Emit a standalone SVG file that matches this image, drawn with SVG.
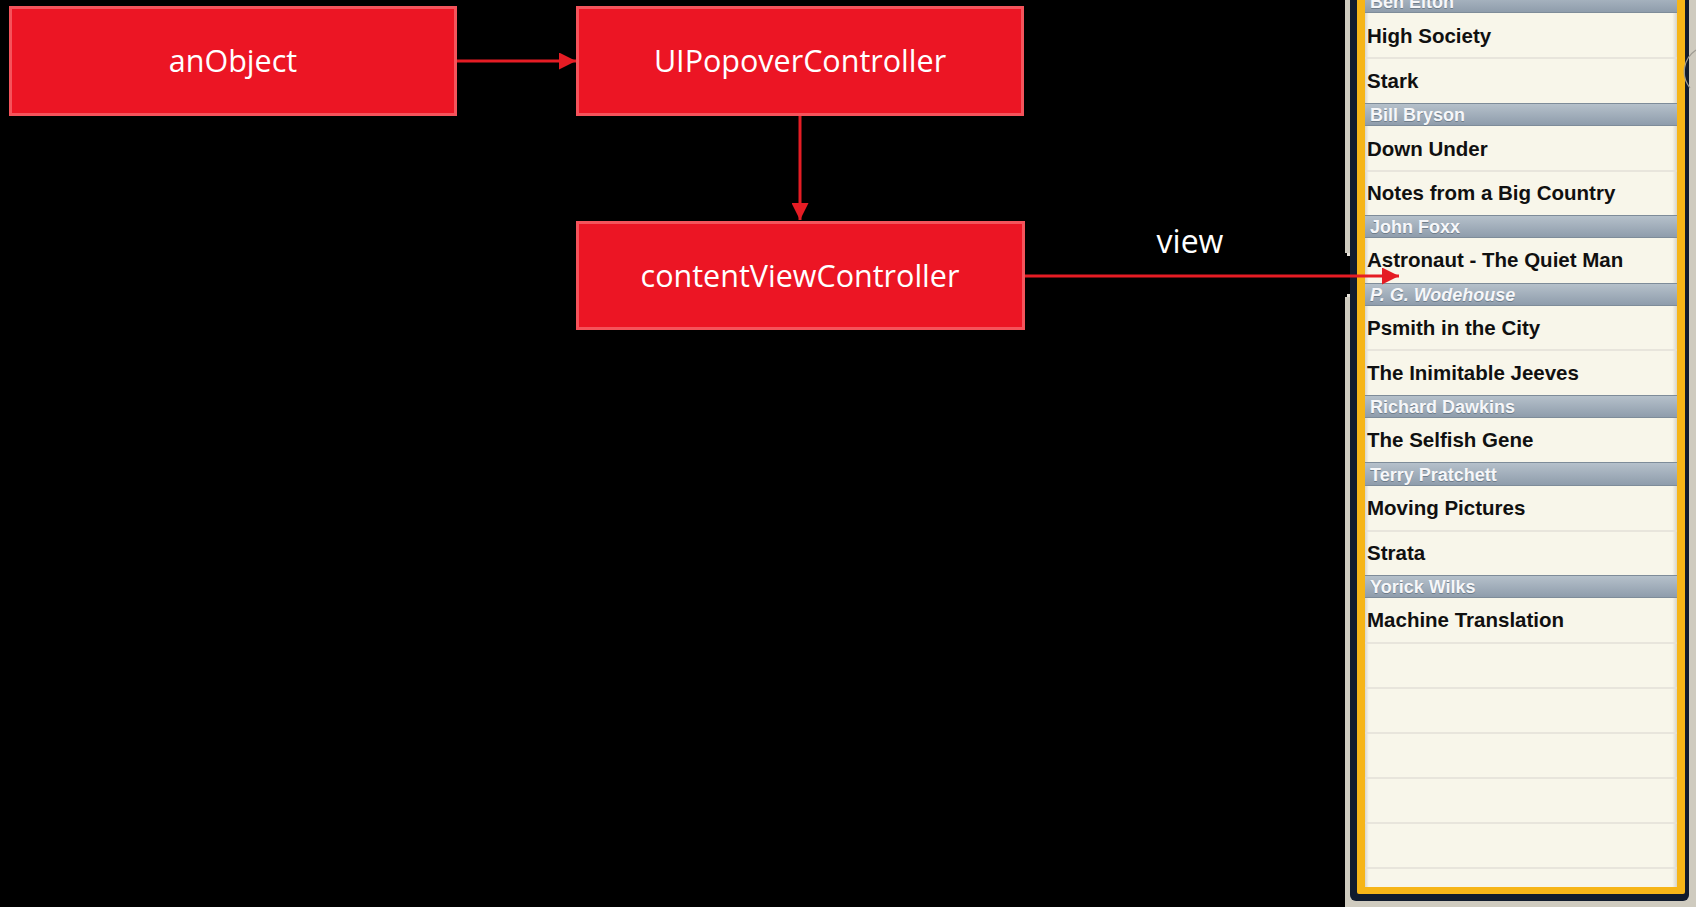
<svg xmlns="http://www.w3.org/2000/svg" width="1696" height="907" viewBox="0 0 1696 907">
  <defs>
    <style>
      .box { fill: #ec1524; stroke: #f5535b; stroke-width: 3; }
      .boxlabel { font-family: "Open Sans", "Liberation Sans", sans-serif; font-size: 30.5px; fill: #ffffff; text-anchor: middle; }
      .conn { stroke: #e51c24; stroke-width: 3; fill: none; }
      .connlabel { font-family: "Open Sans", "Liberation Sans", sans-serif; font-size: 32px; fill: #ffffff; text-anchor: middle; }
      .row { font-family: "Liberation Sans", Arial, sans-serif; font-size: 20.5px; font-weight: bold; fill: #101010; }
      .hdr { fill: url(#hdrGrad); }
      .hdrline { stroke: #7e8c99; stroke-width: 1; }
      .hdrtext { font-family: "Liberation Sans", Arial, sans-serif; font-size: 18px; font-weight: bold; fill: #f6f7f9; }
      .hdrshadow { font-family: "Liberation Sans", Arial, sans-serif; font-size: 18px; font-weight: bold; fill: #6f7d8a; }
      .sep { stroke: #e3dfd7; stroke-width: 1.5; }
    </style>
    <linearGradient id="hdrGrad" x1="0" y1="0" x2="0" y2="1">
      <stop offset="0" stop-color="#b7c2cc"/>
      <stop offset="1" stop-color="#8d9baa"/>
    </linearGradient>
    <linearGradient id="cellGrad" x1="0" y1="0" x2="1" y2="0">
      <stop offset="0" stop-color="#d9d6cc"/>
      <stop offset="0.012" stop-color="#f8f6ea"/>
      <stop offset="0.985" stop-color="#f8f6ea"/>
      <stop offset="1" stop-color="#d8d5cb"/>
    </linearGradient>
    <marker id="arrow" markerUnits="userSpaceOnUse" markerWidth="17" markerHeight="17" refX="17" refY="8.5" orient="auto">
      <path d="M0,0 L17,8.5 L0,17 z" fill="#e51c24"/>
    </marker>
  </defs>

  <!-- background -->
  <rect x="0" y="0" width="1696" height="907" fill="#000000"/>

  <!-- table view screenshot -->
  <g id="tableview">
    <rect x="1345" y="0" width="351" height="907" fill="#cfcbbf"/>
    <rect x="1350" y="-12" width="339" height="913" rx="6" fill="#111b2d"/>
    <rect x="1357" y="-12" width="328" height="906" rx="2" fill="#f6b518"/>
    <rect x="1365" y="-12" width="312" height="899" fill="url(#cellGrad)"/>
    <!-- faint ring behind the frame -->
    <path d="M1696,50 A26,26 0 0 0 1690,88" fill="none" stroke="#9e9b92" stroke-width="1.2"/>
    <!-- break in the outer edge -->
    <rect x="1345" y="253" width="5" height="44" fill="#000000"/>
    <rect x="1347" y="253" width="3" height="3" fill="#e6e3da"/>
    <rect x="1347" y="294" width="3" height="3" fill="#e6e3da"/>

    <!-- section headers -->
    <g id="headers">
      <rect class="hdr" x="1365" y="-10" width="312" height="23"/>
      <line class="hdrline" x1="1365" y1="12.5" x2="1677" y2="12.5"/>
      <text class="hdrshadow" x="1370" y="9">Ben Elton</text>
      <text class="hdrtext" x="1370" y="8">Ben Elton</text>

      <rect class="hdr" x="1365" y="103" width="312" height="23"/>
      <line class="hdrline" x1="1365" y1="103.5" x2="1677" y2="103.5"/>
      <line class="hdrline" x1="1365" y1="125.5" x2="1677" y2="125.5"/>
      <text class="hdrshadow" x="1370" y="122">Bill Bryson</text>
      <text class="hdrtext" x="1370" y="121">Bill Bryson</text>

      <rect class="hdr" x="1365" y="215" width="312" height="23"/>
      <line class="hdrline" x1="1365" y1="215.5" x2="1677" y2="215.5"/>
      <line class="hdrline" x1="1365" y1="237.5" x2="1677" y2="237.5"/>
      <text class="hdrshadow" x="1370" y="234">John Foxx</text>
      <text class="hdrtext" x="1370" y="233">John Foxx</text>

      <rect class="hdr" x="1365" y="283" width="312" height="23"/>
      <line class="hdrline" x1="1365" y1="283.5" x2="1677" y2="283.5"/>
      <line class="hdrline" x1="1365" y1="305.5" x2="1677" y2="305.5"/>
      <text class="hdrshadow" x="1370" y="302" font-style="italic">P. G. Wodehouse</text>
      <text class="hdrtext" x="1370" y="301" font-style="italic">P. G. Wodehouse</text>

      <rect class="hdr" x="1365" y="395" width="312" height="23"/>
      <line class="hdrline" x1="1365" y1="395.5" x2="1677" y2="395.5"/>
      <line class="hdrline" x1="1365" y1="417.5" x2="1677" y2="417.5"/>
      <text class="hdrshadow" x="1370" y="414">Richard Dawkins</text>
      <text class="hdrtext" x="1370" y="413">Richard Dawkins</text>

      <rect class="hdr" x="1365" y="462" width="312" height="24"/>
      <line class="hdrline" x1="1365" y1="462.5" x2="1677" y2="462.5"/>
      <line class="hdrline" x1="1365" y1="485.5" x2="1677" y2="485.5"/>
      <text class="hdrshadow" x="1370" y="482">Terry Pratchett</text>
      <text class="hdrtext" x="1370" y="481">Terry Pratchett</text>

      <rect class="hdr" x="1365" y="575" width="312" height="23"/>
      <line class="hdrline" x1="1365" y1="575.5" x2="1677" y2="575.5"/>
      <line class="hdrline" x1="1365" y1="597.5" x2="1677" y2="597.5"/>
      <text class="hdrshadow" x="1370" y="594">Yorick Wilks</text>
      <text class="hdrtext" x="1370" y="593">Yorick Wilks</text>
    </g>

    <!-- separators between cells -->
    <g id="separators">
      <line class="sep" x1="1365" y1="58" x2="1677" y2="58"/>
      <line class="sep" x1="1365" y1="171" x2="1677" y2="171"/>
      <line class="sep" x1="1365" y1="350" x2="1677" y2="350"/>
      <line class="sep" x1="1365" y1="531" x2="1677" y2="531"/>
      <line class="sep" x1="1365" y1="643" x2="1677" y2="643"/>
      <line class="sep" x1="1365" y1="688" x2="1677" y2="688"/>
      <line class="sep" x1="1365" y1="733" x2="1677" y2="733"/>
      <line class="sep" x1="1365" y1="778" x2="1677" y2="778"/>
      <line class="sep" x1="1365" y1="823" x2="1677" y2="823"/>
      <line class="sep" x1="1365" y1="868" x2="1677" y2="868"/>
    </g>

    <!-- cell titles -->
    <g id="cells">
      <text class="row" x="1367" y="43">High Society</text>
      <text class="row" x="1367" y="88">Stark</text>
      <text class="row" x="1367" y="156">Down Under</text>
      <text class="row" x="1367" y="200">Notes from a Big Country</text>
      <text class="row" x="1367" y="267">Astronaut - The Quiet Man</text>
      <text class="row" x="1367" y="335">Psmith in the City</text>
      <text class="row" x="1367" y="380">The Inimitable Jeeves</text>
      <text class="row" x="1367" y="447">The Selfish Gene</text>
      <text class="row" x="1367" y="515">Moving Pictures</text>
      <text class="row" x="1367" y="560">Strata</text>
      <text class="row" x="1367" y="627">Machine Translation</text>
    </g>
  </g>

  <!-- object nodes -->
  <g id="anObject">
    <rect class="box" x="10.5" y="7.5" width="445" height="107"/>
    <text class="boxlabel" x="233" y="72">anObject</text>
  </g>
  <g id="UIPopoverController">
    <rect class="box" x="577.5" y="7.5" width="445" height="107"/>
    <text class="boxlabel" x="800" y="72">UIPopoverController</text>
  </g>
  <g id="contentViewController">
    <rect class="box" x="577.5" y="222.5" width="446" height="106"/>
    <text class="boxlabel" x="800" y="287">contentViewController</text>
  </g>

  <!-- connectors -->
  <g id="connectors">
    <line class="conn" x1="457" y1="61" x2="576" y2="61" marker-end="url(#arrow)"/>
    <line class="conn" x1="800" y1="116" x2="800" y2="220" marker-end="url(#arrow)"/>
    <line class="conn" x1="1025" y1="276" x2="1399" y2="276" marker-end="url(#arrow)"/>
    <text class="connlabel" x="1190" y="253">view</text>
  </g>
</svg>
